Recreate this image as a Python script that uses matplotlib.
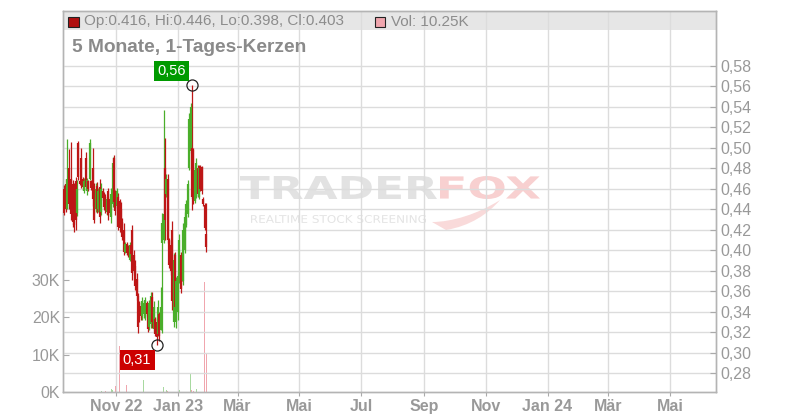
import numpy as np
import pandas as pd
import matplotlib
matplotlib.use("Agg")
import matplotlib.pyplot as plt
from matplotlib.patches import Rectangle, PathPatch
from matplotlib.path import Path
from matplotlib.textpath import TextPath
from matplotlib.font_manager import FontProperties
from matplotlib.transforms import Affine2D

plt.rcParams['font.family'] = ['Liberation Sans', 'DejaVu Sans']

# daily candles, Sep 2022 - Jan 2023
opens = [.460, .465, .440, .480, .466, .470, .465, .455, .468, .436,
         .505, .468, .490, .470, .458, .490, .458, .468, .470, .468,
         .480, .460, .440, .463, .440, .462, .437, .458, .455, .452,
         .437, .458, .450, .432, .445, .490, .455, .443, .452, .448,
         .440, .428, .420, .398, .406, .403, .390, .405, .420, .395,
         .385, .372, .355, .348, .346, .336, .338, .334, .348, .341,
         .325, .328, .354, .323, .333, .330, .318, .338, .322, .407,
         .410, .480, .455, .470, .410, .405, .420, .330, .395, .330,
         .340, .370, .395, .390, .370, .400, .425, .435, .480, .497,
         .500, .498, .448, .453, .480, .452, .482, .481, .450, .444,
         .416]
highs = [.464, .470, .509, .499, .469, .506, .469, .466, .472, .469,
         .507, .469, .500, .472, .471, .496, .471, .469, .509, .469,
         .500, .466, .466, .467, .461, .470, .466, .461, .457, .455,
         .453, .461, .452, .461, .491, .493, .459, .461, .456, .450,
         .447, .431, .427, .408, .408, .405, .408, .407, .425, .400,
         .390, .378, .358, .350, .349, .354, .350, .354, .350, .344,
         .351, .359, .359, .350, .335, .335, .351, .340, .364, .436,
         .537, .510, .474, .474, .412, .410, .429, .397, .398, .374,
         .379, .416, .398, .392, .427, .437, .449, .469, .534, .544,
         .561, .500, .481, .490, .483, .483, .483, .482, .452, .446,
         .446]
lows = [.434, .437, .440, .440, .449, .430, .423, .418, .420, .433,
        .469, .464, .461, .459, .456, .459, .454, .458, .469, .459,
        .443, .427, .437, .436, .437, .427, .434, .449, .439, .436,
        .434, .430, .433, .427, .442, .442, .434, .441, .420, .418,
        .417, .410, .395, .397, .395, .393, .389, .393, .371, .376,
        .361, .351, .319, .330, .332, .332, .334, .332, .336, .320,
        .322, .324, .324, .321, .316, .307, .316, .311, .322, .319,
        .407, .410, .452, .407, .383, .376, .342, .325, .342, .324,
        .332, .368, .358, .370, .366, .397, .423, .432, .478, .495,
        .439, .445, .446, .451, .452, .450, .458, .455, .443, .420,
        .398]
closes = [.436, .440, .470, .445, .452, .435, .428, .425, .430, .460,
          .472, .465, .465, .462, .468, .462, .469, .460, .505, .461,
          .450, .430, .460, .440, .458, .432, .460, .451, .442, .440,
          .450, .434, .436, .455, .485, .447, .438, .458, .423, .422,
          .425, .413, .398, .406, .397, .395, .405, .396, .378, .380,
          .365, .355, .325, .334, .336, .350, .348, .351, .338, .323,
          .348, .355, .330, .345, .318, .315, .345, .316, .345, .427,
          .435, .430, .470, .410, .386, .380, .350, .390, .345, .370,
          .375, .410, .362, .372, .420, .432, .445, .465, .528, .540,
          .452, .450, .478, .485, .455, .480, .460, .458, .445, .422,
          .403]
volumes = [0, 0, 0, 0, 0, 0, 0, 0, 0, 0,
           0, 0, 0, 0, 0, 0, 0, 0, 0, 0,
           0, 0, 0, 0, 0, 0, 400, 0, 0, 300,
           0, 0, 0, 800, 600, 0, 1600, 0, 0, 12400,
           0, 0, 0, 0, 1800, 0, 0, 0, 0, 0,
           0, 0, 0, 0, 0, 0, 3200, 0, 0, 0,
           0, 0, 0, 0, 0, 0, 0, 0, 0, 0,
           1300, 0, 500, 400, 0, 0, 0, 0, 0, 0,
           0, 500, 0, 0, 0, 0, 0, 0, 0, 5000,
           600, 400, 0, 700, 0, 0, 0, 0, 0, 29500,
           10250]

tick_dates = ["2022-11-01", "2023-01-01", "2023-03-01", "2023-05-01", "2023-07-01",
              "2023-09-01", "2023-11-01", "2024-01-01", "2024-03-01", "2024-05-01"]
tick_labels = ["Nov 22", "Jan 23", "Mär", "Mai", "Jul", "Sep", "Nov", "Jan 24", "Mär", "Mai"]
price_ticks = [0.28, 0.30, 0.32, 0.34, 0.36, 0.38, 0.40, 0.42, 0.44, 0.46,
               0.48, 0.50, 0.52, 0.54, 0.56, 0.58]
vol_ticks = [0, 10000, 20000, 30000]
vol_labels = ["0K", "10K", "20K", "30K"]

o = np.array(opens); h = np.array(highs); l = np.array(lows); c = np.array(closes)
n = len(o)
t0 = pd.Timestamp("2022-11-01")
tick_pos = [(pd.Timestamp(d) - t0).days for d in tick_dates]
# candles are evenly spaced (trading days), first ~Sep 11, last ~Jan 29
x = np.linspace(-51, 89, n)

RED = '#bd1616'
GREEN = '#4aae2a'
up = c >= o
cols = np.where(up, GREEN, RED)
vcols = np.where(up, '#a8d9a0', '#f0a6ae')

W, H = 800, 420
L, R, T, B = 63, 716, 11, 392
fig = plt.figure(figsize=(W / 100, H / 100), dpi=100)
fig.patch.set_facecolor('white')
axv = fig.add_axes([L / W, (H - B) / H, (R - L) / W, (B - T) / H])
axv.patch.set_visible(False)
axp = axv.twinx()

axv.set_xlim(-52.3, 592.3)
axv.set_ylim(0, 101900)
axp.set_ylim(0.2615, 0.6337)

# header band
axv.add_patch(Rectangle((0, (B - 30) / (B - T)), 1, (30 - T) / (B - T), transform=axv.transAxes,
                        facecolor='#e6e6e6', edgecolor='none', zorder=0.2))

axv.bar(x, volumes, width=1.0, color=vcols, linewidth=0, zorder=2)

axp.vlines(x, l, h, colors=cols, lw=0.9, zorder=3)
axp.vlines(x, np.minimum(o, c), np.maximum(o, c), colors=cols, lw=1.6, zorder=3)

# grid + ticks
axv.set_xticks(tick_pos)
axv.set_xticklabels(tick_labels)
axv.grid(axis='x', color='#dcdcdc', lw=1)
axv.set_axisbelow(True)
axv.set_yticks(vol_ticks)
axv.set_yticklabels(vol_labels)
axp.set_yticks(price_ticks)
axp.set_yticklabels([f"{v:.2f}".replace(".", ",") for v in price_ticks])
axp.grid(axis='y', color='#dcdcdc', lw=1)
axp.set_axisbelow(True)

axv.tick_params(axis='y', direction='in', length=4, color='#aaaaaa', labelcolor='#999999',
                labelsize=11.5, pad=2)
axp.tick_params(axis='y', direction='in', length=4, color='#aaaaaa', labelcolor='#999999',
                labelsize=11.5, pad=3.5)
axv.tick_params(axis='x', direction='out', length=3, color='#aaaaaa', labelcolor='#999999',
                labelsize=11.5, pad=2)
for lab in axv.get_xticklabels():
    lab.set_fontweight('bold')
for a in (axv, axp):
    for s in a.spines.values():
        s.set_color('#b4b4b4')
        s.set_linewidth(1)

# max / min markers
ih = int(np.argmax(h)); il = int(np.argmin(l))
axp.plot(x[ih], h[ih], 'o', mfc='none', mec='#222222', ms=8, mew=0.9, zorder=5)
axp.plot(x[il], l[il], 'o', mfc='none', mec='#222222', ms=8, mew=0.9, zorder=5)
axp.annotate(f"{h[ih]:.2f}".replace(".", ","), xy=(x[ih], h[ih]), xytext=(-15, 10.5),
             textcoords='offset points', ha='center', va='center', color='white', fontsize=10.5,
             bbox=dict(boxstyle='square,pad=0.22', fc='#009a00', ec='none'), zorder=6)
axp.annotate(f"{l[il]:.2f}".replace(".", ","), xy=(x[il], l[il]), xytext=(-14, -10.3),
             textcoords='offset points', ha='center', va='center', color='white', fontsize=10.5,
             bbox=dict(boxstyle='square,pad=0.22', fc='#cc0000', ec='none'), zorder=6)

# header texts
fig.add_artist(Rectangle((68 / W, (H - 27) / H), 11 / W, 10 / H, transform=fig.transFigure,
                         facecolor='#b01010', edgecolor='#222222', lw=0.8))
fig.text(84 / W, (H - 21.5) / H,
         f"Op:{o[-1]:.3f}, Hi:{h[-1]:.3f}, Lo:{l[-1]:.3f}, Cl:{c[-1]:.3f}",
         ha='left', va='center', fontsize=11, color='#8c8c8c')
fig.add_artist(Rectangle((375 / W, (H - 27) / H), 10 / W, 10 / H, transform=fig.transFigure,
                         facecolor='#f0a6ae', edgecolor='#222222', lw=0.8))
fig.text(391 / W, (H - 21.5) / H, f"Vol: {volumes[-1] / 1000:.2f}K",
         ha='left', va='center', fontsize=11, color='#8c8c8c')
fig.text(72 / W, (H - 47) / H, "5 Monate, 1-Tages-Kerzen", ha='left', va='center',
         fontsize=13.8, fontweight='bold', color='#8a8a8a')


# watermark
def watermark(text, box, color, weight='bold'):
    fp = FontProperties(family='DejaVu Sans', weight=weight)
    tp = TextPath((0, 0), text, size=10, prop=fp)
    ext = tp.get_extents()
    x0, y0, x1, y1 = box
    tr = (Affine2D().translate(-ext.x0, -ext.y0)
          .scale((x1 - x0) / ext.width / W, (y1 - y0) / ext.height / H)
          .translate(x0 / W, (H - y1) / H))
    fig.add_artist(PathPatch(tr.transform_path(tp), transform=fig.transFigure,
                             facecolor=color, edgecolor='none', zorder=-1))


watermark("TRADER", (240, 176, 437, 199), '#e2e2e2')
watermark("FOX", (440, 176, 540, 199), '#f8d0d0')
watermark("REALTIME STOCK SCREENING", (251, 215, 426, 223), '#e4e4e4', weight='normal')

# fox tail swoosh below "FOX"
tail = [(432, 222), (452, 222), (478, 214), (500, 200), (488, 214), (470, 226),
        (446, 230), (432, 222)]
codes = [Path.MOVETO, Path.CURVE4, Path.CURVE4, Path.CURVE4,
         Path.CURVE4, Path.CURVE4, Path.CURVE4, Path.CLOSEPOLY]
tail_path = Path([(px / W, (H - py) / H) for px, py in tail], codes)
fig.add_artist(PathPatch(tail_path, transform=fig.transFigure, facecolor='#f9dada',
                         edgecolor='none', zorder=-1))

fig.savefig("out.png", dpi=100)
